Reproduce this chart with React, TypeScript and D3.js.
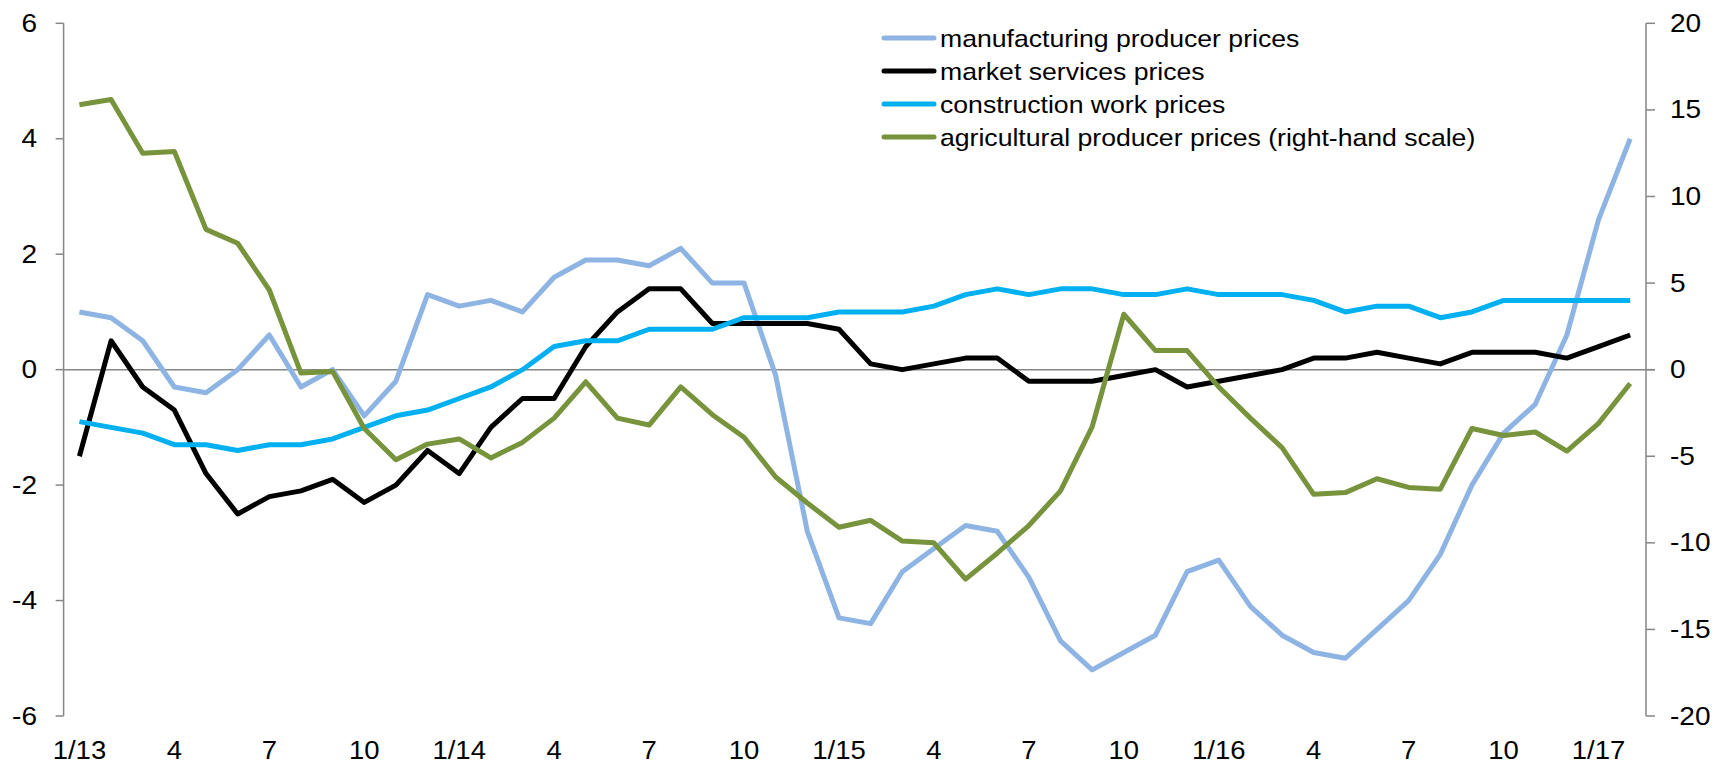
import React from "react"
import * as d3 from "d3"

// months 1/13 .. 2/17
const months = [
  "1/13", "2/13", "3/13", "4/13", "5/13", "6/13", "7/13", "8/13", "9/13", "10/13", "11/13", "12/13",
  "1/14", "2/14", "3/14", "4/14", "5/14", "6/14", "7/14", "8/14", "9/14", "10/14", "11/14", "12/14",
  "1/15", "2/15", "3/15", "4/15", "5/15", "6/15", "7/15", "8/15", "9/15", "10/15", "11/15", "12/15",
  "1/16", "2/16", "3/16", "4/16", "5/16", "6/16", "7/16", "8/16", "9/16", "10/16", "11/16", "12/16",
  "1/17", "2/17",
]

const manufacturing = [
  1.0, 0.9, 0.5, -0.3, -0.4, 0.0, 0.6, -0.3, 0.0, -0.8, -0.2, 1.3,
  1.1, 1.2, 1.0, 1.6, 1.9, 1.9, 1.8, 2.1, 1.5, 1.5, -0.1, -2.8,
  -4.3, -4.4, -3.5, -3.1, -2.7, -2.8, -3.6, -4.7, -5.2, -4.9, -4.6, -3.5,
  -3.3, -4.1, -4.6, -4.9, -5.0, -4.5, -4.0, -3.2, -2.0, -1.1, -0.6, 0.6,
  2.6, 4.0,
]

const marketServices = [
  -1.5, 0.5, -0.3, -0.7, -1.8, -2.5, -2.2, -2.1, -1.9, -2.3, -2.0, -1.4,
  -1.8, -1.0, -0.5, -0.5, 0.4, 1.0, 1.4, 1.4, 0.8, 0.8, 0.8, 0.8,
  0.7, 0.1, 0.0, 0.1, 0.2, 0.2, -0.2, -0.2, -0.2, -0.1, 0.0, -0.3,
  -0.2, -0.1, 0.0, 0.2, 0.2, 0.3, 0.2, 0.1, 0.3, 0.3, 0.3, 0.2,
  0.4, 0.6,
]

const construction = [
  -0.9, -1.0, -1.1, -1.3, -1.3, -1.4, -1.3, -1.3, -1.2, -1.0, -0.8, -0.7,
  -0.5, -0.3, 0.0, 0.4, 0.5, 0.5, 0.7, 0.7, 0.7, 0.9, 0.9, 0.9,
  1.0, 1.0, 1.0, 1.1, 1.3, 1.4, 1.3, 1.4, 1.4, 1.3, 1.3, 1.4,
  1.3, 1.3, 1.3, 1.2, 1.0, 1.1, 1.1, 0.9, 1.0, 1.2, 1.2, 1.2,
  1.2, 1.2,
]

// right-hand scale
const agricultural = [
  15.3, 15.6, 12.5, 12.6, 8.1, 7.3, 4.6, -0.2, -0.1, -3.4, -5.2, -4.3,
  -4.0, -5.1, -4.2, -2.8, -0.7, -2.8, -3.2, -1.0, -2.6, -3.9, -6.2, -7.7,
  -9.1, -8.7, -9.9, -10.0, -12.1, -10.6, -9.0, -7.0, -3.3, 3.2, 1.1, 1.1,
  -1.0, -2.8, -4.5, -7.2, -7.1, -6.3, -6.8, -6.9, -3.4, -3.8, -3.6, -4.7,
  -3.1, -0.8,
]

const leftTicks = [-6, -4, -2, 0, 2, 4, 6]
const rightTicks = [-20, -15, -10, -5, 0, 5, 10, 15, 20]
const xTickLabels = ["1/13", "4", "7", "10", "1/14", "4", "7", "10", "1/15", "4", "7", "10", "1/16", "4", "7", "10", "1/17"]

const seriesNames = [
  "manufacturing producer prices",
  "market services prices",
  "construction work prices",
  "agricultural producer prices (right-hand scale)",
]
const seriesColors = ["#8EB4E3", "#000000", "#00B0F0", "#77933C"]

const W = 1731
const H = 767
const axisLeftX = 63.6
const axisRightX = 1646
const topY = 23.3
const bottomY = 716
const font = "'Liberation Sans', Arial, sans-serif"
const sx = 1.1

export default function App() {
  const x = d3.scaleBand<number>()
    .domain(d3.range(months.length))
    .range([axisLeftX, axisRightX])
  const cx = (i: number) => (x(i) as number) + x.bandwidth() / 2
  const yL = d3.scaleLinear().domain([-6, 6]).range([bottomY, topY])
  const yR = d3.scaleLinear().domain([-20, 20]).range([bottomY, topY])

  const lineL = d3.line<number>().x((d, i) => cx(i)).y(d => yL(d))
  const lineR = d3.line<number>().x((d, i) => cx(i)).y(d => yR(d))

  const paths = [
    lineL(manufacturing),
    lineL(marketServices),
    lineL(construction),
    lineR(agricultural),
  ]

  const axisColor = "#868686"

  return (
    <svg width={W} height={H} style={{ position: "absolute", left: 0, top: 0, background: "#fff" }}>
      {/* zero line */}
      <line x1={axisLeftX} x2={axisRightX + 9} y1={yL(0)} y2={yL(0)} stroke={axisColor} strokeWidth={1.5} />
      {/* left axis */}
      <line x1={axisLeftX} x2={axisLeftX} y1={topY} y2={bottomY} stroke={axisColor} strokeWidth={1.5} />
      {leftTicks.map(t => (
        <g key={"l" + t}>
          <line x1={axisLeftX - 8} x2={axisLeftX} y1={yL(t)} y2={yL(t)} stroke={axisColor} strokeWidth={1.5} />
          <text transform={`translate(37,${yL(t)}) scale(${sx},1)`} textAnchor="end" dominantBaseline="central"
            fontFamily={font} fontSize={25.5} fill="#000">{t}</text>
        </g>
      ))}
      {/* right axis */}
      <line x1={axisRightX} x2={axisRightX} y1={topY} y2={bottomY} stroke={axisColor} strokeWidth={1.5} />
      {rightTicks.map(t => (
        <g key={"r" + t}>
          <line x1={axisRightX} x2={axisRightX + 9} y1={yR(t)} y2={yR(t)} stroke={axisColor} strokeWidth={1.5} />
          <text transform={`translate(1670,${yR(t)}) scale(${sx},1)`} textAnchor="start" dominantBaseline="central"
            fontFamily={font} fontSize={25.5} fill="#000">{t}</text>
        </g>
      ))}
      {/* x labels */}
      {xTickLabels.map((lab, k) => (
        <text key={"x" + k} transform={`translate(${cx(k * 3)},759) scale(${sx},1)`} textAnchor="middle"
          fontFamily={font} fontSize={25} fill="#000">{lab}</text>
      ))}
      {/* series */}
      {paths.map((p, i) => (
        <path key={"p" + i} d={p || ""} fill="none" stroke={seriesColors[i]} strokeWidth={5} strokeLinejoin="round" />
      ))}
      {/* legend */}
      {seriesNames.map((name, i) => {
        const ly = 38 + i * 33
        return (
          <g key={"lg" + i}>
            <line x1={884} x2={934} y1={ly} y2={ly} stroke={seriesColors[i]} strokeWidth={5} strokeLinecap="round" />
            <text transform={`translate(940,${ly}) scale(${sx},1)`} dominantBaseline="central"
              fontFamily={font} fontSize={24.2} fill="#000">{name}</text>
          </g>
        )
      })}
    </svg>
  )
}
